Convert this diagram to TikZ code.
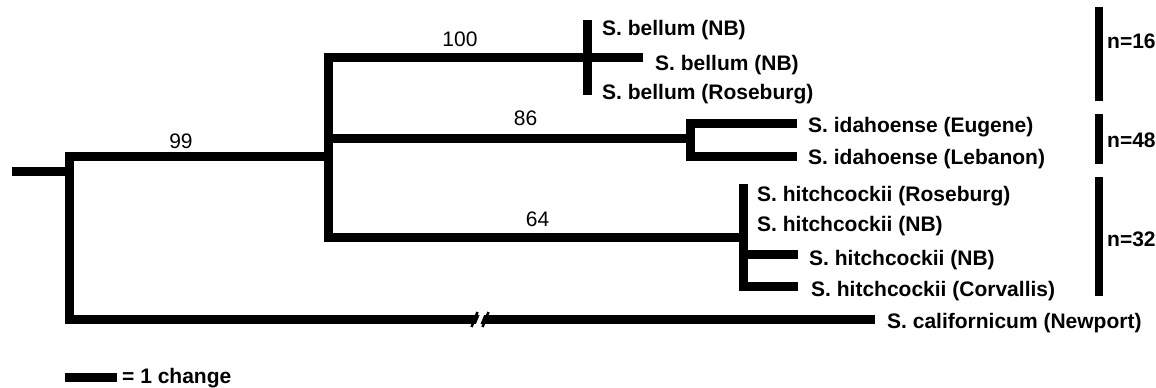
\documentclass[tikz,border=0pt]{standalone}
\usepackage{fontspec}
\setmainfont{Liberation Sans}
\begin{document}
\begin{tikzpicture}[x=1pt,y=-1pt,
  br/.style={line width=9pt},
  grp/.style={line width=8pt},
  tip/.style={anchor=base west,inner sep=0pt,font=\fontsize{21}{23}\selectfont\bfseries},
  boot/.style={anchor=base,inner sep=0pt,font=\fontsize{21}{23}\selectfont}]
\useasboundingbox[fill=white] (0,0) rectangle (1156,388);
% internal coordinates
\coordinate (s0) at (12,171);
\coordinate (r) at (69,171);
\coordinate (a) at (328,156);
\coordinate (rb) at (69,319);
\coordinate (cal) at (875,319);
\coordinate (bt) at (643,57);
\coordinate (hb) at (328,237);
\coordinate (h) at (743,237);
\coordinate (b1) at (587,20);
\coordinate (b3) at (587,95);
\coordinate (ai) at (328,138.5);
\coordinate (i) at (690,138.5);
\coordinate (ie) at (797,123);
\coordinate (il) at (690,156);
\coordinate (ile) at (797,156);
\coordinate (ht) at (743,184);
\coordinate (hc) at (743,286.5);
\coordinate (hce) at (798,286.5);
\coordinate (hn) at (743,254);
\coordinate (hne) at (798,254);
% tree
\draw[br] (s0) -- (r);
\draw[br] (a) -| (rb) -- (cal);
\draw[br] (bt) -| (hb) -- (h);
\draw[br] (b1) -- (b3);
\draw[br] (ai) -- (i);
\draw[br] (ie) -| (il) -- (ile);
\draw[br] (ht) -- (hc) -- (hce);
\draw[br] (hn) -- (hne);
% break marks
\draw[line width=2.5pt] (471.5,327) -- (477.5,312);
\draw[line width=2.5pt] (482.5,327) -- (488.5,312);
\draw[white,line width=4pt] (477,327) -- (483,312);
% support values
\node[boot] (v99) at (181,148) {99};
\node[boot] (v100) at (460,46.7) {100};
\node[boot] (v86) at (525.5,125.7) {86};
\node[boot] (v64) at (537.5,226.7) {64};
% tips
\node[tip] (t1) at (602,35) {S. bellum (NB)};
\node[tip] (t2) at (655,70) {S. bellum (NB)};
\node[tip] (t3) at (602,99.3) {S. bellum (Roseburg)};
\node[tip] (t4) at (808,132.7) {S. idahoense (Eugene)};
\node[tip] (t5) at (808,164.3) {S. idahoense (Lebanon)};
\node[tip] (t6) at (757,201.7) {S. hitchcockii (Roseburg)};
\node[tip] (t7) at (757,231.7) {S. hitchcockii (NB)};
\node[tip] (t8) at (809,265) {S. hitchcockii (NB)};
\node[tip] (t9) at (811,296.7) {S. hitchcockii (Corvallis)};
\node[tip] (t10) at (887,328.3) {S. californicum (Newport)};
% groups
\coordinate (g1a) at (1099,7); \coordinate (g1b) at (1099,101);
\coordinate (g2a) at (1099,114); \coordinate (g2b) at (1099,164);
\coordinate (g3a) at (1099,177); \coordinate (g3b) at (1099,296);
\draw[grp] (g1a) -- (g1b);
\draw[grp] (g2a) -- (g2b);
\draw[grp] (g3a) -- (g3b);
\node[tip] (n16) at (1107,48.3) {n=16};
\node[tip] (n48) at (1107,147.3) {n=48};
\node[tip] (n32) at (1107,246.7) {n=32};
% scale bar
\coordinate (sb1) at (65,377); \coordinate (sb2) at (117,377);
\draw[br] (sb1) -- (sb2);
\node[tip] (sc) at (122,383.3) {= 1 change};
\end{tikzpicture}
\end{document}
